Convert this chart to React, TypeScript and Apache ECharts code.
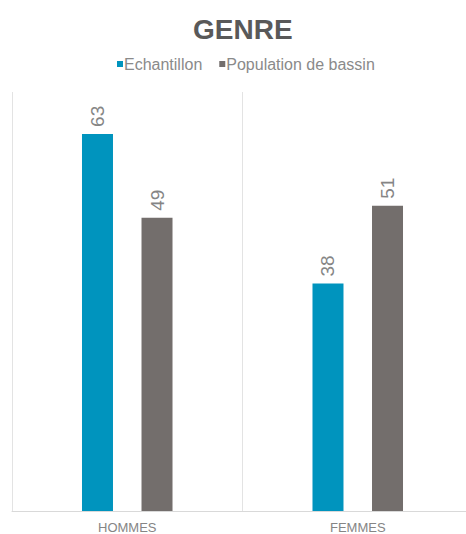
import React, { useEffect, useRef } from "react";
import * as echarts from "echarts";

const categories = ["HOMMES", "FEMMES"];
const seriesNames = ["Echantillon", "Population de bassin"];
const echantillon = [63, 38];
const population = [49, 51];

export default function App() {
  const ref = useRef<HTMLDivElement>(null);
  useEffect(() => {
    if (!ref.current) return;
    const chart = echarts.init(ref.current, null, { renderer: "svg" });
    const font = "'Liberation Sans', Arial, sans-serif";
    const label = {
      show: true,
      position: "top",
      rotate: 90,
      align: "left",
      verticalAlign: "middle",
      distance: 7,
      color: "#858585",
      fontSize: 19,
      fontFamily: font,
    };
    chart.setOption({
      animation: false,
      title: {
        text: "GENRE",
        left: 188,
        top: 10,
        textStyle: { fontSize: 28, fontWeight: "bold", color: "#595959", fontFamily: font },
      },
      legend: {
        top: 51,
        left: 112,
        itemWidth: 6,
        itemHeight: 6,
        itemGap: 17,
        icon: "rect",
        textStyle: { fontSize: 16, color: "#8a8a8a", fontFamily: font, padding: [0, 0, 0, -4] },
        data: seriesNames,
      },
      grid: { left: 12, right: 0, top: 92, bottom: 23, containLabel: false },
      xAxis: {
        type: "category",
        data: categories,
        axisLine: { show: true, lineStyle: { color: "#d9d9d9" } },
        axisTick: { show: false },
        splitLine: { show: true, lineStyle: { color: "#e3e3e3" } },
        axisLabel: { color: "#858585", fontSize: 13, fontFamily: font, margin: 10 },
      },
      yAxis: {
        type: "value",
        min: 0,
        max: 70,
        show: false,
        splitLine: { show: false },
      },
      series: [
        {
          name: seriesNames[0],
          type: "bar",
          data: echantillon,
          barWidth: 31,
          barGap: "92%",
          itemStyle: { color: "#0094be" },
          label,
        },
        {
          name: seriesNames[1],
          type: "bar",
          data: population,
          barWidth: 31,
          barGap: "92%",
          itemStyle: { color: "#736e6c" },
          label,
        },
      ],
    });
    return () => chart.dispose();
  }, []);
  return (
    <div style={{ position: "absolute", left: 0, top: 0, width: 466, height: 534, overflow: "hidden", background: "#fff" }}>
      <div ref={ref} style={{ width: 473, height: 534 }} />
    </div>
  );
}
